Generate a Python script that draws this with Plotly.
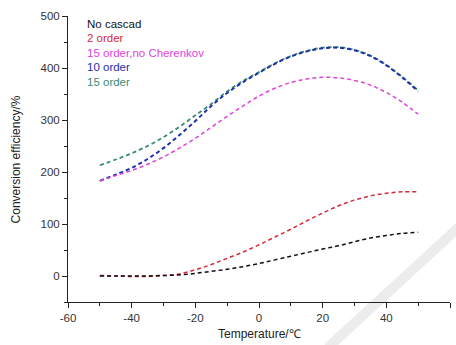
import plotly.graph_objects as go

temperature = [-50, -45, -40, -35, -30, -25, -20, -15, -10, -5, 0, 5, 10, 15, 20, 25, 30, 35, 40, 45, 50]

no_cascad = [0, 0, 0, 0, 1, 2, 5, 9, 13, 18, 24, 31, 38, 45, 52, 58, 66, 73, 78, 82, 84]
order_2 = [1, 0, -1, -1, 1, 4, 12, 22, 34, 46, 60, 75, 90, 106, 121, 135, 146, 154, 159, 162, 162]
order_15_no_cherenkov = [183, 193, 203, 215, 229, 246, 265, 286, 307, 327, 346, 361, 372, 379, 382, 381, 376, 367, 353, 334, 311]
order_10 = [183, 195, 208, 225, 246, 271, 298, 327, 352, 373, 391, 408, 422, 432, 438, 439, 434, 423, 405, 382, 355]
order_15 = [213, 224, 236, 250, 267, 287, 309, 331, 355, 375, 392, 409, 423, 433, 439, 440, 435, 424, 406, 383, 357]

x_tick_vals = [-60, -40, -20, 0, 20, 40, 60]
x_tick_text = ["-60", "-40", "-20", "0", "20", "40", "60"]
y_tick_vals = [0, 100, 200, 300, 400, 500]
y_tick_text = ["0", "100", "200", "300", "400", "500"]

series_names = ["No cascad", "2 order", "15 order,no Cherenkov", "10 order", "15 order"]
series_values = [no_cascad, order_2, order_15_no_cherenkov, order_10, order_15]
series_colors = ["#111111", "#d42a3a", "#dd44dd", "#2030a8", "#3a8a78"]
series_widths = [1.5, 1.5, 1.5, 2, 1.8]

FONT = "Liberation Sans, Arial"

fig = go.Figure()
for i in [4, 3, 2, 1, 0]:
    fig.add_trace(go.Scatter(
        x=temperature, y=series_values[i], mode="lines", name=series_names[i],
        line=dict(color=series_colors[i], width=series_widths[i], dash="4px,3px", shape="spline"),
        showlegend=False, hoverinfo="skip",
    ))

# text-only legend
for k, (name, col) in enumerate(zip(series_names, series_colors)):
    fig.add_annotation(
        text=name, x=0.045, y=0.972 - k * 0.0505, xref="paper", yref="paper",
        xanchor="left", yanchor="middle", showarrow=False,
        font=dict(size=11.5, color=col, family=FONT),
    )

# axis titles
fig.add_annotation(text="Temperature/℃", x=0.5, y=-0.08, xref="paper", yref="paper",
                   xanchor="center", yanchor="top", showarrow=False,
                   font=dict(size=12, color="#222", family=FONT))
fig.add_annotation(text="Conversion efficiency/%", x=-0.135, y=0.5, xref="paper", yref="paper",
                   xanchor="center", yanchor="middle", showarrow=False, textangle=-90,
                   font=dict(size=12, color="#222", family=FONT))

# faint watermark stripe
fig.add_shape(type="line", xref="paper", yref="paper",
              x0=1.03, y0=0.27, x1=0.68, y1=-0.16,
              line=dict(color="#ececec", width=10), layer="below")

axis_common = dict(
    showline=True, linecolor="#222", linewidth=1, mirror=False,
    ticks="outside", ticklen=5, tickwidth=1, tickcolor="#222",
    showgrid=False, zeroline=False, automargin=False,
    tickfont=dict(size=11.5, color="#333", family=FONT),
)

fig.update_layout(
    width=456, height=345,
    margin=dict(l=68, r=6, t=16, b=43),
    paper_bgcolor="white", plot_bgcolor="white",
    hovermode=False,
    xaxis=dict(range=[-60, 60], tickmode="array", tickvals=x_tick_vals, ticktext=x_tick_text,
               minor=dict(dtick=10, tick0=0, ticks="outside", ticklen=3, tickcolor="#222"),
               ticklabelstandoff=0,
               **axis_common),
    yaxis=dict(range=[-50, 500], tickmode="array", tickvals=y_tick_vals, ticktext=y_tick_text,
               minor=dict(dtick=50, tick0=0, ticks="outside", ticklen=3, tickcolor="#222"),
               **axis_common),
)

fig.write_html("out.html", config={"displayModeBar": False},
               post_script="document.body.style.margin='0';document.body.style.overflow='hidden';")
